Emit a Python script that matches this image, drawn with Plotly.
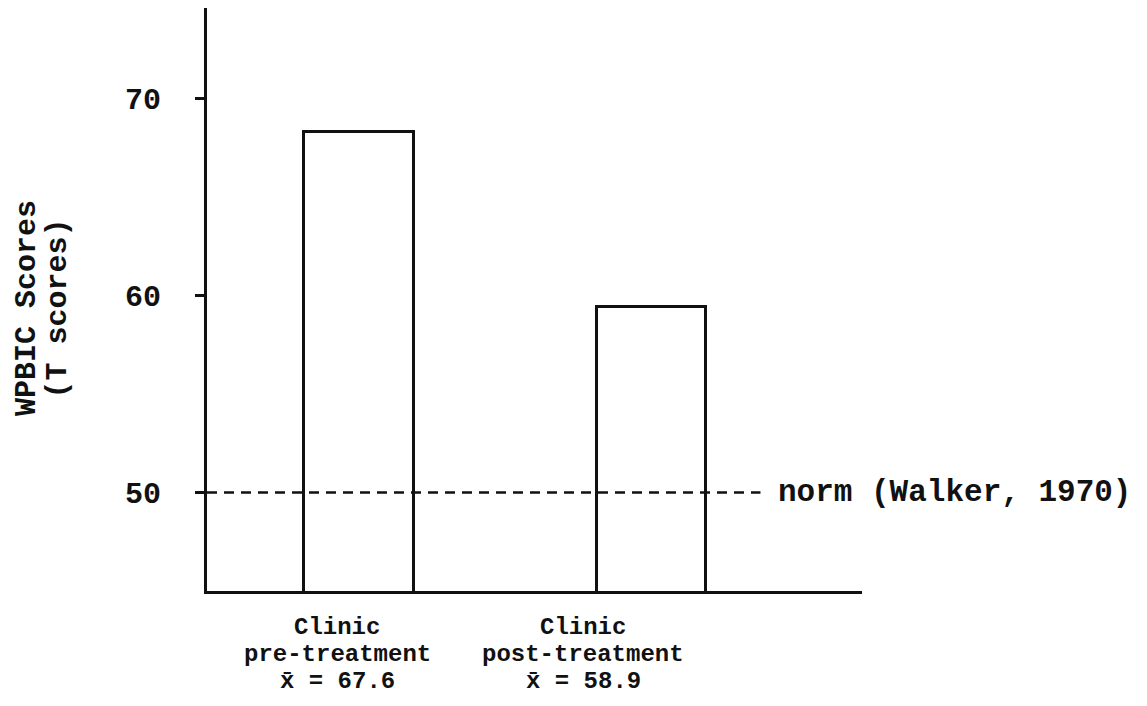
import plotly.graph_objects as go

# ---- data ----
categories = ["Clinic pre-treatment", "Clinic post-treatment"]
label_line1 = ["Clinic", "Clinic"]
label_line2 = ["pre-treatment", "post-treatment"]
reported_means = [67.6, 58.9]
bar_heights = [68.3, 59.4]          # bar tops as drawn
norm_value = 50
norm_label = "norm (Walker, 1970)"
y_ticks = [50, 60, 70]
y_title_lines = ["WPBIC Scores", "(T scores)"]

FONT = "Liberation Mono"
INK = "#111111"

x_pos = list(range(len(categories)))

fig = go.Figure()
fig.add_trace(go.Bar(
    x=x_pos, y=bar_heights, width=0.375,
    marker=dict(color="rgba(0,0,0,0)", line=dict(color=INK, width=3)),
    hoverinfo="skip", showlegend=False,
))

# norm dashed line
fig.add_shape(type="line", xref="paper", yref="y",
              x0=0, x1=0.845, y0=norm_value, y1=norm_value,
              line=dict(color=INK, width=2.5, dash="10px,7px"), layer="above")
fig.add_annotation(xref="paper", yref="y", x=0.868, y=norm_value,
                   text=norm_label, showarrow=False, xanchor="left", yanchor="middle",
                   font=dict(family=FONT, size=31, color=INK, weight="bold"))

# category labels (three lines each)
shifts = [-22, -68]
for i in x_pos:
    lines = [label_line1[i], label_line2[i], "x\u0304 = " + f"{reported_means[i]:.1f}"]
    for j, txt in enumerate(lines):
        fig.add_annotation(xref="x", yref="paper", x=i, y=0,
                           text=txt, showarrow=False, xanchor="center", yanchor="middle",
                           xshift=shifts[i], yshift=-(36 + 27 * j),
                           font=dict(family=FONT, size=24, color=INK, weight="bold"))

# y-axis title (two rotated lines)
for j, (txt, xp) in enumerate(zip(y_title_lines, [-0.275, -0.227])):
    fig.add_annotation(xref="paper", yref="paper", x=xp, y=0.485,
                       text=txt, textangle=-90, showarrow=False,
                       xanchor="center", yanchor="middle",
                       font=dict(family=FONT, size=30, color=INK, weight="bold"))

fig.update_layout(
    width=1139, height=698,
    margin=dict(l=199, r=285, t=0, b=115),
    paper_bgcolor="white", plot_bgcolor="white",
    showlegend=False,
    bargap=0,
)
fig.update_xaxes(range=[-0.52, 1.72], showgrid=False, zeroline=False,
                 showline=True, linecolor=INK, linewidth=3,
                 showticklabels=False, ticks="")
fig.update_yaxes(range=[45.0, 74.6], tickvals=y_ticks, showgrid=False, zeroline=False,
                 showline=True, linecolor=INK, linewidth=3,
                 ticks="outside", ticklen=9, tickwidth=3, tickcolor=INK,
                 ticklabelstandoff=28,
                 tickfont=dict(family=FONT, size=30, color=INK, weight="bold"))

fig.write_html("out.html")
